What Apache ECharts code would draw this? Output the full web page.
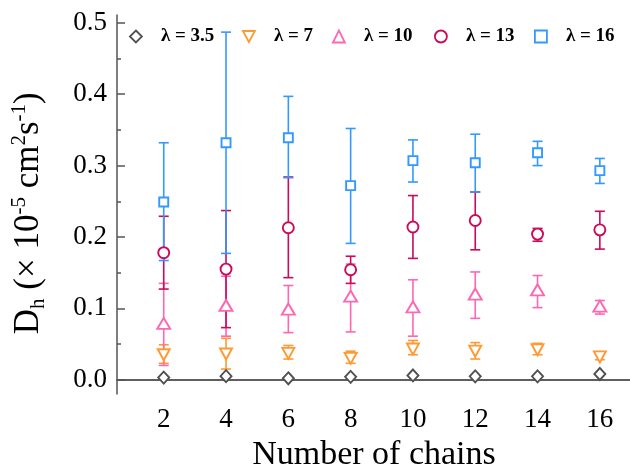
<!DOCTYPE html>
<html><head><meta charset="utf-8">
<script src="https://cdn.jsdelivr.net/npm/echarts@6/dist/echarts.min.js"></script>
<style>html,body{margin:0;padding:0;background:#fff}#c{width:630px;height:473px}</style>
</head><body><div id="c"></div>
<script>
const chains = [2, 4, 6, 8, 10, 12, 14, 16];
const xTicks = [2, 4, 6, 8, 10, 12, 14, 16];
const yTicks = [0, 0.1, 0.2, 0.3, 0.4, 0.5];
const yMinor = [0.05, 0.15, 0.25, 0.35, 0.45];
const names = ['λ = 3.5', 'λ = 7', 'λ = 10', 'λ = 13', 'λ = 16'];

const mean35 = [0.003, 0.005, 0.002, 0.004, 0.006, 0.0047, 0.0047, 0.008];

const mean7 = [0.035, 0.036, 0.037, 0.030, 0.043, 0.040, 0.042, 0.032];
const low7  = [0.023, 0.015, 0.029, 0.023, 0.035, 0.029, 0.035, 0.028];
const high7 = [0.049, 0.058, 0.048, 0.040, 0.055, 0.052, 0.051, 0.036];

const mean10 = [0.079, 0.104, 0.099, 0.117, 0.102, 0.120, 0.126, 0.103];
const low10  = [0.020, 0.061, 0.066, 0.067, 0.061, 0.086, 0.101, 0.092];
const high10 = [0.135, 0.145, 0.132, 0.162, 0.140, 0.151, 0.146, 0.111];

const mean13 = [0.178, 0.155, 0.213, 0.154, 0.214, 0.223, 0.204, 0.210];
const low13  = [0.127, 0.073, 0.143, 0.135, 0.170, 0.182, 0.194, 0.183];
const high13 = [0.229, 0.237, 0.284, 0.173, 0.258, 0.263, 0.212, 0.236];

const mean16 = [0.249, 0.332, 0.339, 0.272, 0.307, 0.304, 0.318, 0.293];
const low16  = [0.167, 0.177, 0.283, 0.191, 0.277, 0.263, 0.300, 0.275];
const high16 = [0.332, 0.487, 0.397, 0.352, 0.336, 0.344, 0.334, 0.310];

const colors = ['#505050', '#FF9A33', '#FF66B3', '#CC0A5A', '#3399FF'];
const FONT = "'Liberation Serif', 'Times New Roman', serif";
const legendLefts = [129, 242, 332, 434, 534];

function errRender(params, api) {
  const x = api.value(0), lo = api.value(1), hi = api.value(2);
  const pLo = api.coord([x, lo]), pHi = api.coord([x, hi]);
  const w = 5;
  const style = { stroke: api.visual('color'), lineWidth: 1.6 };
  return { type: 'group', children: [
    { type: 'line', shape: { x1: pLo[0], y1: pLo[1], x2: pHi[0], y2: pHi[1] }, style: style },
    { type: 'line', shape: { x1: pLo[0] - w, y1: pLo[1], x2: pLo[0] + w, y2: pLo[1] }, style: style },
    { type: 'line', shape: { x1: pHi[0] - w, y1: pHi[1], x2: pHi[0] + w, y2: pHi[1] }, style: style }
  ]};
}
function errSeries(lo, hi, color) {
  return {
    type: 'custom', renderItem: errRender, z: 2, silent: true,
    itemStyle: { color: color },
    encode: { x: 0, y: [1, 2] },
    data: chains.map((c, i) => [c, lo[i], hi[i]])
  };
}
function pts(mean, name, color, symbol, size) {
  return {
    type: 'scatter', name: name, symbol: symbol, symbolSize: size, z: 5,
    itemStyle: { color: '#fff', borderColor: color, borderWidth: 1.9, opacity: 1 },
    data: chains.map((c, i) => [c, mean[i]])
  };
}
const labelRich = { a: { fontFamily: FONT, fontSize: 27, color: '#000' } };

const chart = echarts.init(document.getElementById('c'));
chart.setOption({
  animation: false,
  backgroundColor: '#fff',
  textStyle: { fontFamily: FONT },
  grid: { left: 117, right: -1, top: 15, bottom: 79, containLabel: false, outerBoundsMode: 'none' },
  legend: names.map((n, i) => ({
    data: [n], left: legendLefts[i], top: 27, orient: 'horizontal',
    itemWidth: 12, itemHeight: 12, padding: 0,
    itemStyle: { borderWidth: 1.8 },
    formatter: s => '{t|' + s + '}',
    textStyle: {
      fontFamily: FONT, fontWeight: 'bold', fontSize: 19, color: '#000',
      rich: { t: { fontFamily: FONT, fontWeight: 'bold', fontSize: 19, color: '#000', padding: [0, 0, 0, 14] } }
    }
  })),
  xAxis: [{
    type: 'value', min: 0.5, max: 17,
    axisLine: { show: true, lineStyle: { color: '#555', width: 1.5 } },
    axisTick: { show: true, inside: true, length: 7, customValues: xTicks, lineStyle: { color: '#555', width: 1.5 } },
    axisLabel: { customValues: xTicks, formatter: v => '{a|' + v + '}', rich: labelRich, fontFamily: FONT, fontSize: 27, color: '#000', margin: 12 },
    splitLine: { show: false },
    name: 'Number of chains', nameLocation: 'middle', nameGap: 44,
    nameTextStyle: { fontFamily: FONT, fontSize: 34, color: '#000' }
  }, {
    type: 'value', min: 0.5, max: 17, position: 'top',
    axisLine: { show: true, lineStyle: { color: '#555', width: 1.5 } },
    axisTick: { show: false }, axisLabel: { show: false }, splitLine: { show: false }
  }],
  yAxis: [{
    type: 'value', min: -0.02, max: 0.511,
    axisLine: { show: true, lineStyle: { color: '#555', width: 1.5 } },
    axisTick: { show: true, inside: true, length: 8, customValues: yTicks, lineStyle: { color: '#555', width: 1.5 } },
    axisLabel: { customValues: yTicks, formatter: v => '{a|' + v.toFixed(1) + '}', rich: labelRich, fontFamily: FONT, fontSize: 27, color: '#000', margin: 10 },
    splitLine: { show: false },
    name: '{m|D}{sub|h}{m| (× 10}{sup|-5}{m| cm}{sup|2}{m|s}{sup|-1}{m|)}{sp|  }',
    nameLocation: 'middle', nameRotate: 90, nameGap: 68,
    nameTextStyle: {
      fontFamily: FONT, color: '#000',
      rich: {
        m: { fontFamily: FONT, fontSize: 35, color: '#000', lineHeight: 40, verticalAlign: 'middle' },
        sup: { fontFamily: FONT, fontSize: 21, color: '#000', lineHeight: 25, verticalAlign: 'top' },
        sub: { fontFamily: FONT, fontSize: 21, color: '#000', lineHeight: 21, verticalAlign: 'bottom' },
        sp: { fontFamily: FONT, fontSize: 35, lineHeight: 40 }
      }
    }
  }, {
    type: 'value', min: -0.02, max: 0.511, position: 'left',
    axisLine: { show: false },
    axisTick: { show: true, inside: true, length: 4, customValues: yMinor, lineStyle: { color: '#555', width: 1.5 } },
    axisLabel: { show: false }, splitLine: { show: false }
  }],
  series: [
    errSeries(low7, high7, colors[1]),
    errSeries(low10, high10, colors[2]),
    errSeries(low13, high13, colors[3]),
    errSeries(low16, high16, colors[4]),
    pts(mean35, names[0], colors[0], 'diamond', [11, 12]),
    pts(mean7, names[1], colors[1], 'path://M0,0L12,0L6,11Z', [12, 11]),
    pts(mean10, names[2], colors[2], 'triangle', [13, 11]),
    pts(mean13, names[3], colors[3], 'circle', 11),
    pts(mean16, names[4], colors[4], 'rect', 9)
  ]
});
</script></body></html>
